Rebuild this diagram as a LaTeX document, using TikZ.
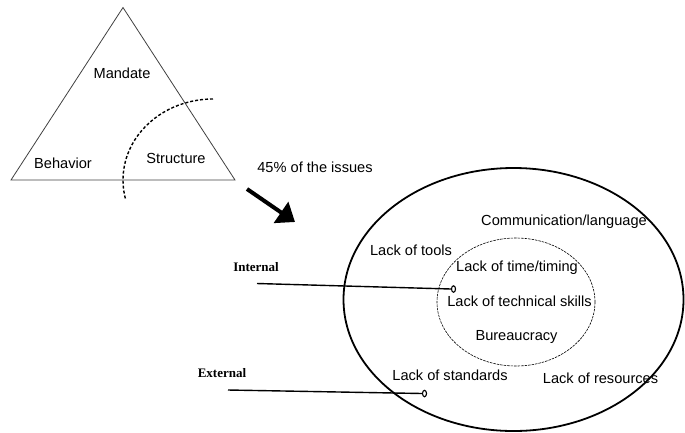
\documentclass[tikz,border=0pt]{standalone}
\usepackage{fontspec}
\setmainfont{Liberation Sans}
\newfontfamily\labelserif{Liberation Serif}
\usetikzlibrary{arrows.meta,shapes.geometric}
\tikzset{
	issue/.style={font=\fontsize{14.6}{17}\selectfont, inner sep=0pt},
	side/.style={font=\labelserif\bfseries\fontsize{13}{15}\selectfont, inner sep=0pt},
	enddot/.style={ellipse, draw, fill=white, line width=1.1pt, minimum width=4pt, minimum height=6.5pt, inner sep=0pt},
}

\begin{document}
\begin{tikzpicture}[x=1pt, y=-1pt]
		%%%%% START %%%%%
		\useasboundingbox (0, 0) rectangle (685, 432);
		
		% triangle
		\draw[line width=0.8pt, color=black!75] (11, 180) -- (123, 7.5) -- (235, 180) -- cycle;
		\node[issue] (mandate) at (122, 73) {Mandate};
		\node[issue] (behavior) at (63, 163) {Behavior};
		\node[issue] (structure) at (176, 158) {Structure};
		\draw[line width=1.4pt, dash pattern=on 3pt off 2pt] (213, 99) arc (270:166:90 and 81);
		
		\node[issue] (share) at (315, 167) {45\% of the issues};
		\coordinate (shaftstart) at (247, 189);
		\coordinate (shaftend) at (295, 222);
		\draw[line width=4pt, -{Triangle[length=17pt, width=25pt]}] (shaftstart) -- (shaftend);
		
		% circles
		\draw[line width=1.8pt] (513.5, 299.5) ellipse (170 and 131.5);
		\draw[line width=0.6pt, dash pattern=on 2.5pt off 1pt] (516, 302) ellipse (79 and 64);
		
		\node[issue] (comm) at (564, 222) {Communication/language};
		\node[issue] (tools) at (411, 250) {Lack of tools};
		\node[issue] (timing) at (517, 268) {Lack of time/timing};
		\node[issue] (skills) at (519.5, 301) {Lack of technical skills};
		\node[issue] (bureau) at (516.5, 337) {Bureaucracy};
		\node[issue] (standards) at (450, 375) {Lack of standards};
		\node[issue] (resources) at (600.5, 378) {Lack of resources};
		
		% internal / external
		\node[side] (internal) at (256, 267) {Internal};
		\node[side] (external) at (222, 373) {External};
		\coordinate (intstart) at (257, 283.5);
		\coordinate (extstart) at (228, 390);
		\node[enddot] (intdot) at (453.5, 289) {};
		\node[enddot] (extdot) at (424.5, 393.5) {};
		\draw[line width=1.4pt] (intstart) -- (intdot.west);
		\draw[line width=1.4pt] (extstart) -- (extdot.west);
		
		%%%%% END %%%%%
	\end{tikzpicture}
\end{document}
